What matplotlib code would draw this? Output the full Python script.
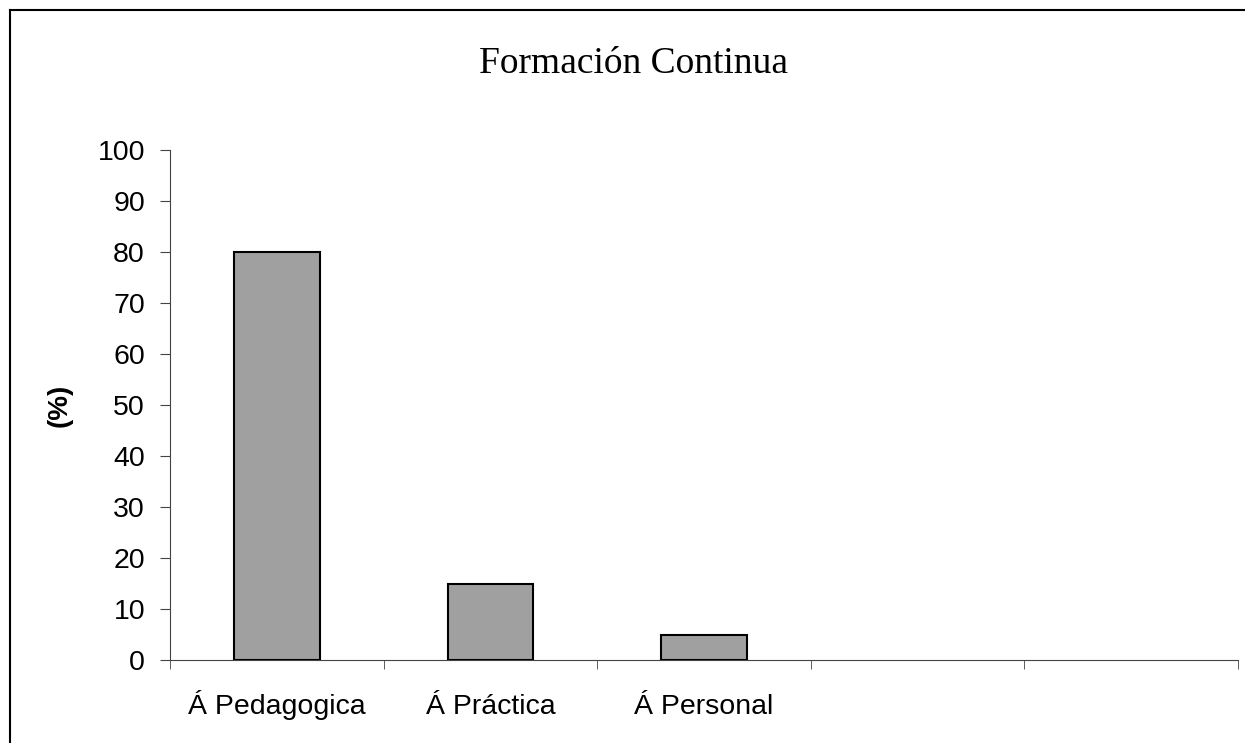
import numpy as np
import matplotlib.pyplot as plt
from matplotlib.lines import Line2D

categories = ["Á Pedagogica", "Á Práctica", "Á Personal", "", ""]
values = [80, 15, 5, 0, 0]
yticks = list(range(0, 101, 10))

fig = plt.figure(figsize=(12.45, 7.43), dpi=100)
ax = fig.add_axes([170 / 1245, 1 - 660 / 743, 1068 / 1245, 510 / 743])

x = np.arange(len(categories))
show = [v > 0 for v in values]
ax.bar(x[show], np.array(values)[show], width=0.4, color="#a0a0a0",
       edgecolor="black", linewidth=1.5, zorder=3)

ax.set_xlim(-0.5, len(categories) - 0.5)
ax.set_ylim(0, 100)
ax.set_yticks(yticks)
ax.set_xticks(x)
ax.set_xticklabels(categories, fontsize=20.5, family="Liberation Sans")
for lbl in ax.get_xticklabels():
    lbl.set_verticalalignment("baseline")
ax.set_xticks(np.arange(-0.5, len(categories)), minor=True)
ax.tick_params(axis="x", which="major", length=0, pad=39)
ax.tick_params(axis="x", which="minor", length=6.5, direction="out", color="#444444")
ax.tick_params(axis="y", length=7, direction="out", color="#444444", pad=11)
for lbl in ax.get_yticklabels():
    lbl.set_fontsize(20.5)
    lbl.set_family("Liberation Sans")

for s in ["top", "right"]:
    ax.spines[s].set_visible(False)
ax.spines["left"].set_color("#444444")
ax.spines["bottom"].set_color("#444444")

ax.set_ylabel("(%)", fontsize=20, fontweight="bold", family="Liberation Sans")
ax.yaxis.set_label_coords(-97 / 1068, 0.5)

fig.text(0.509, 1 - 73 / 743, "Formación Continua", ha="center", va="baseline",
         fontsize=27, family="Liberation Serif")

# outer frame of the chart area
fig.add_artist(Line2D([10 / 1245, 10 / 1245], [0, 1 - 10 / 743], transform=fig.transFigure,
                      color="black", linewidth=1.5))
fig.add_artist(Line2D([10 / 1245, 1], [1 - 10 / 743, 1 - 10 / 743], transform=fig.transFigure,
                      color="black", linewidth=1.5))

fig.savefig("out.png", dpi=100)
